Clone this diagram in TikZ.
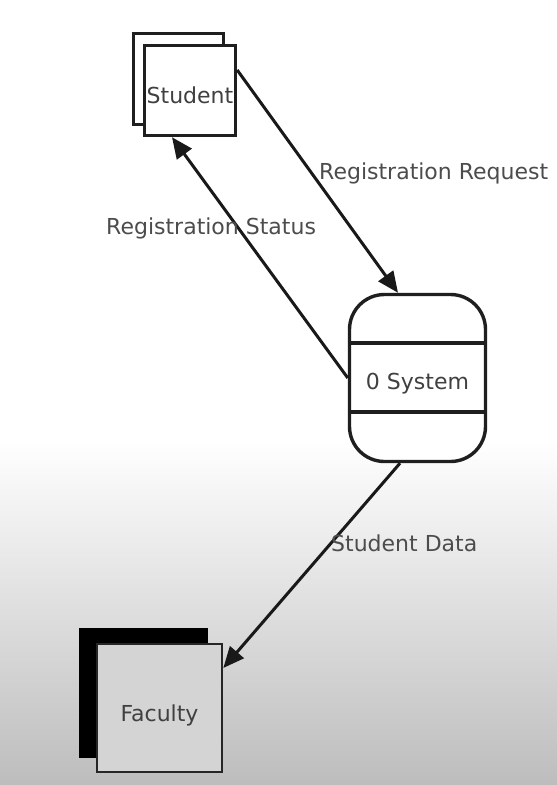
\documentclass[tikz,border=0pt]{standalone}
\usepackage{fontspec}
\setmainfont{DejaVu Sans}
\usetikzlibrary{arrows.meta}
\begin{document}
\begin{tikzpicture}[x=1pt,y=-1pt,
  box/.style={draw=black!88, line width=3.4pt, inner sep=0pt, text=black!75,
    font=\fontsize{22}{26}\selectfont},
  lbl/.style={text=black!70, inner sep=0pt, anchor=west,
    font=\fontsize{22}{26}\selectfont},
  flow/.style={draw=black!90, line width=3pt, -{Triangle[length=21pt,width=18pt]}}]
\useasboundingbox (0,0) rectangle (557,785);
\fill[white] (0,0) rectangle (557,440);
\shade[top color=white, bottom color=black!26] (0,440) rectangle (557,785);

% Student (external entity)
\node[box, minimum width=90pt, minimum height=91pt] (studentback) at (178.5,79) {};
\node[box, fill=white, minimum width=91pt, minimum height=90pt,
  text height=26pt, text depth=0pt] (studentfront) at (190,90.5) {Student};

% System (process)
\node[box, fill=white, rounded corners=35pt, minimum width=136pt, minimum height=167pt,
  text height=22pt, text depth=0pt] (system) at (417.5,378) {0 System};
\draw[black!88, line width=3.4pt] ([yshift=35pt]system.west) -- ([yshift=35pt]system.east);
\draw[black!88, line width=3.4pt] ([yshift=-34pt]system.west) -- ([yshift=-34pt]system.east);

% Faculty (external entity)
\node[box, draw=black, fill=black, minimum width=125pt, minimum height=126pt] (facultyback) at (143.5,693) {};
\node[box, draw=black!85, line width=2.6pt, fill=black!17, minimum width=125pt, minimum height=128pt,
  text height=32pt, text depth=5pt] (facultyfront) at (159.5,708) {Faculty};

% Flows
\draw[flow] ([yshift=20.5pt]studentfront.east) -- ([xshift=-19.5pt]system.north);
\draw[flow] (system.west) -- ([xshift=-18pt]studentfront.south);
\draw[flow] ([xshift=-17.5pt]system.south) -- ([yshift=40pt]facultyfront.east);

% Labels
\node[lbl] (lreq) at (319,173) {Registration Request};
\node[lbl] (lstat) at (106,228) {Registration Status};
\node[lbl] (ldata) at (331,543) {Student Data};
\end{tikzpicture}
\end{document}
